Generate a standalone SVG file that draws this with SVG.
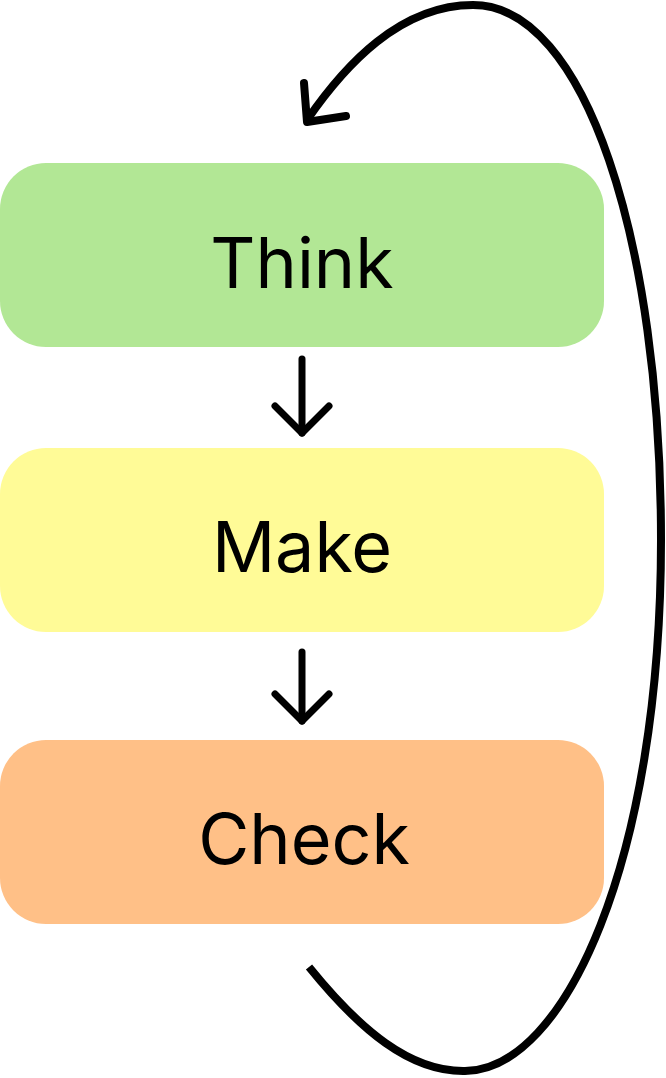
<svg xmlns="http://www.w3.org/2000/svg" width="666" height="1078" viewBox="0 0 666 1078">
<style>
.lbl{font-family:Inter,Roboto,"Liberation Sans",sans-serif;font-size:70px;fill:#000;text-anchor:middle}
.ln{fill:none;stroke:#000;stroke-width:7;stroke-linecap:round;stroke-linejoin:round}
.big{fill:none;stroke:#000;stroke-width:8;stroke-linejoin:round}
</style>
<defs>
<marker id="chev" markerUnits="userSpaceOnUse" orient="auto" refX="0" refY="0" markerWidth="80" markerHeight="80" viewBox="-40 -40 80 80" overflow="visible">
<path d="M-27,-27 L0,0 L-27,27" fill="none" stroke="#000" stroke-width="7" stroke-linecap="round" stroke-linejoin="round"/>
</marker>
</defs>
<rect width="666" height="1078" fill="#fff"/>
<g id="think">
<rect x="0" y="163" width="604" height="184" rx="46" fill="#b2e795"/>
<text class="lbl" x="302" y="288">Think</text>
</g>
<g id="make">
<rect x="0" y="448" width="604" height="184" rx="46" fill="#fffb97"/>
<text class="lbl" x="302" y="572">Make</text>
</g>
<g id="check">
<rect x="0" y="740" width="604" height="184" rx="46" fill="#ffc087"/>
<text class="lbl" x="304" y="864">Check</text>
</g>
<g id="connectors">
<path class="ln" d="M302,359 L302,433" marker-end="url(#chev)"/>
<path class="ln" d="M302,652 L302,721" marker-end="url(#chev)"/>
<path class="big" d="M309,967 C360,1030 410,1072 465,1071 C565,1070 661,860 661,540 C661,240 585,5 473,5 C400,5 345,65 307,120"/>
<path class="big" d="M304,83 L307,122 L346,116" stroke-linecap="round"/>
</g>
</svg>
